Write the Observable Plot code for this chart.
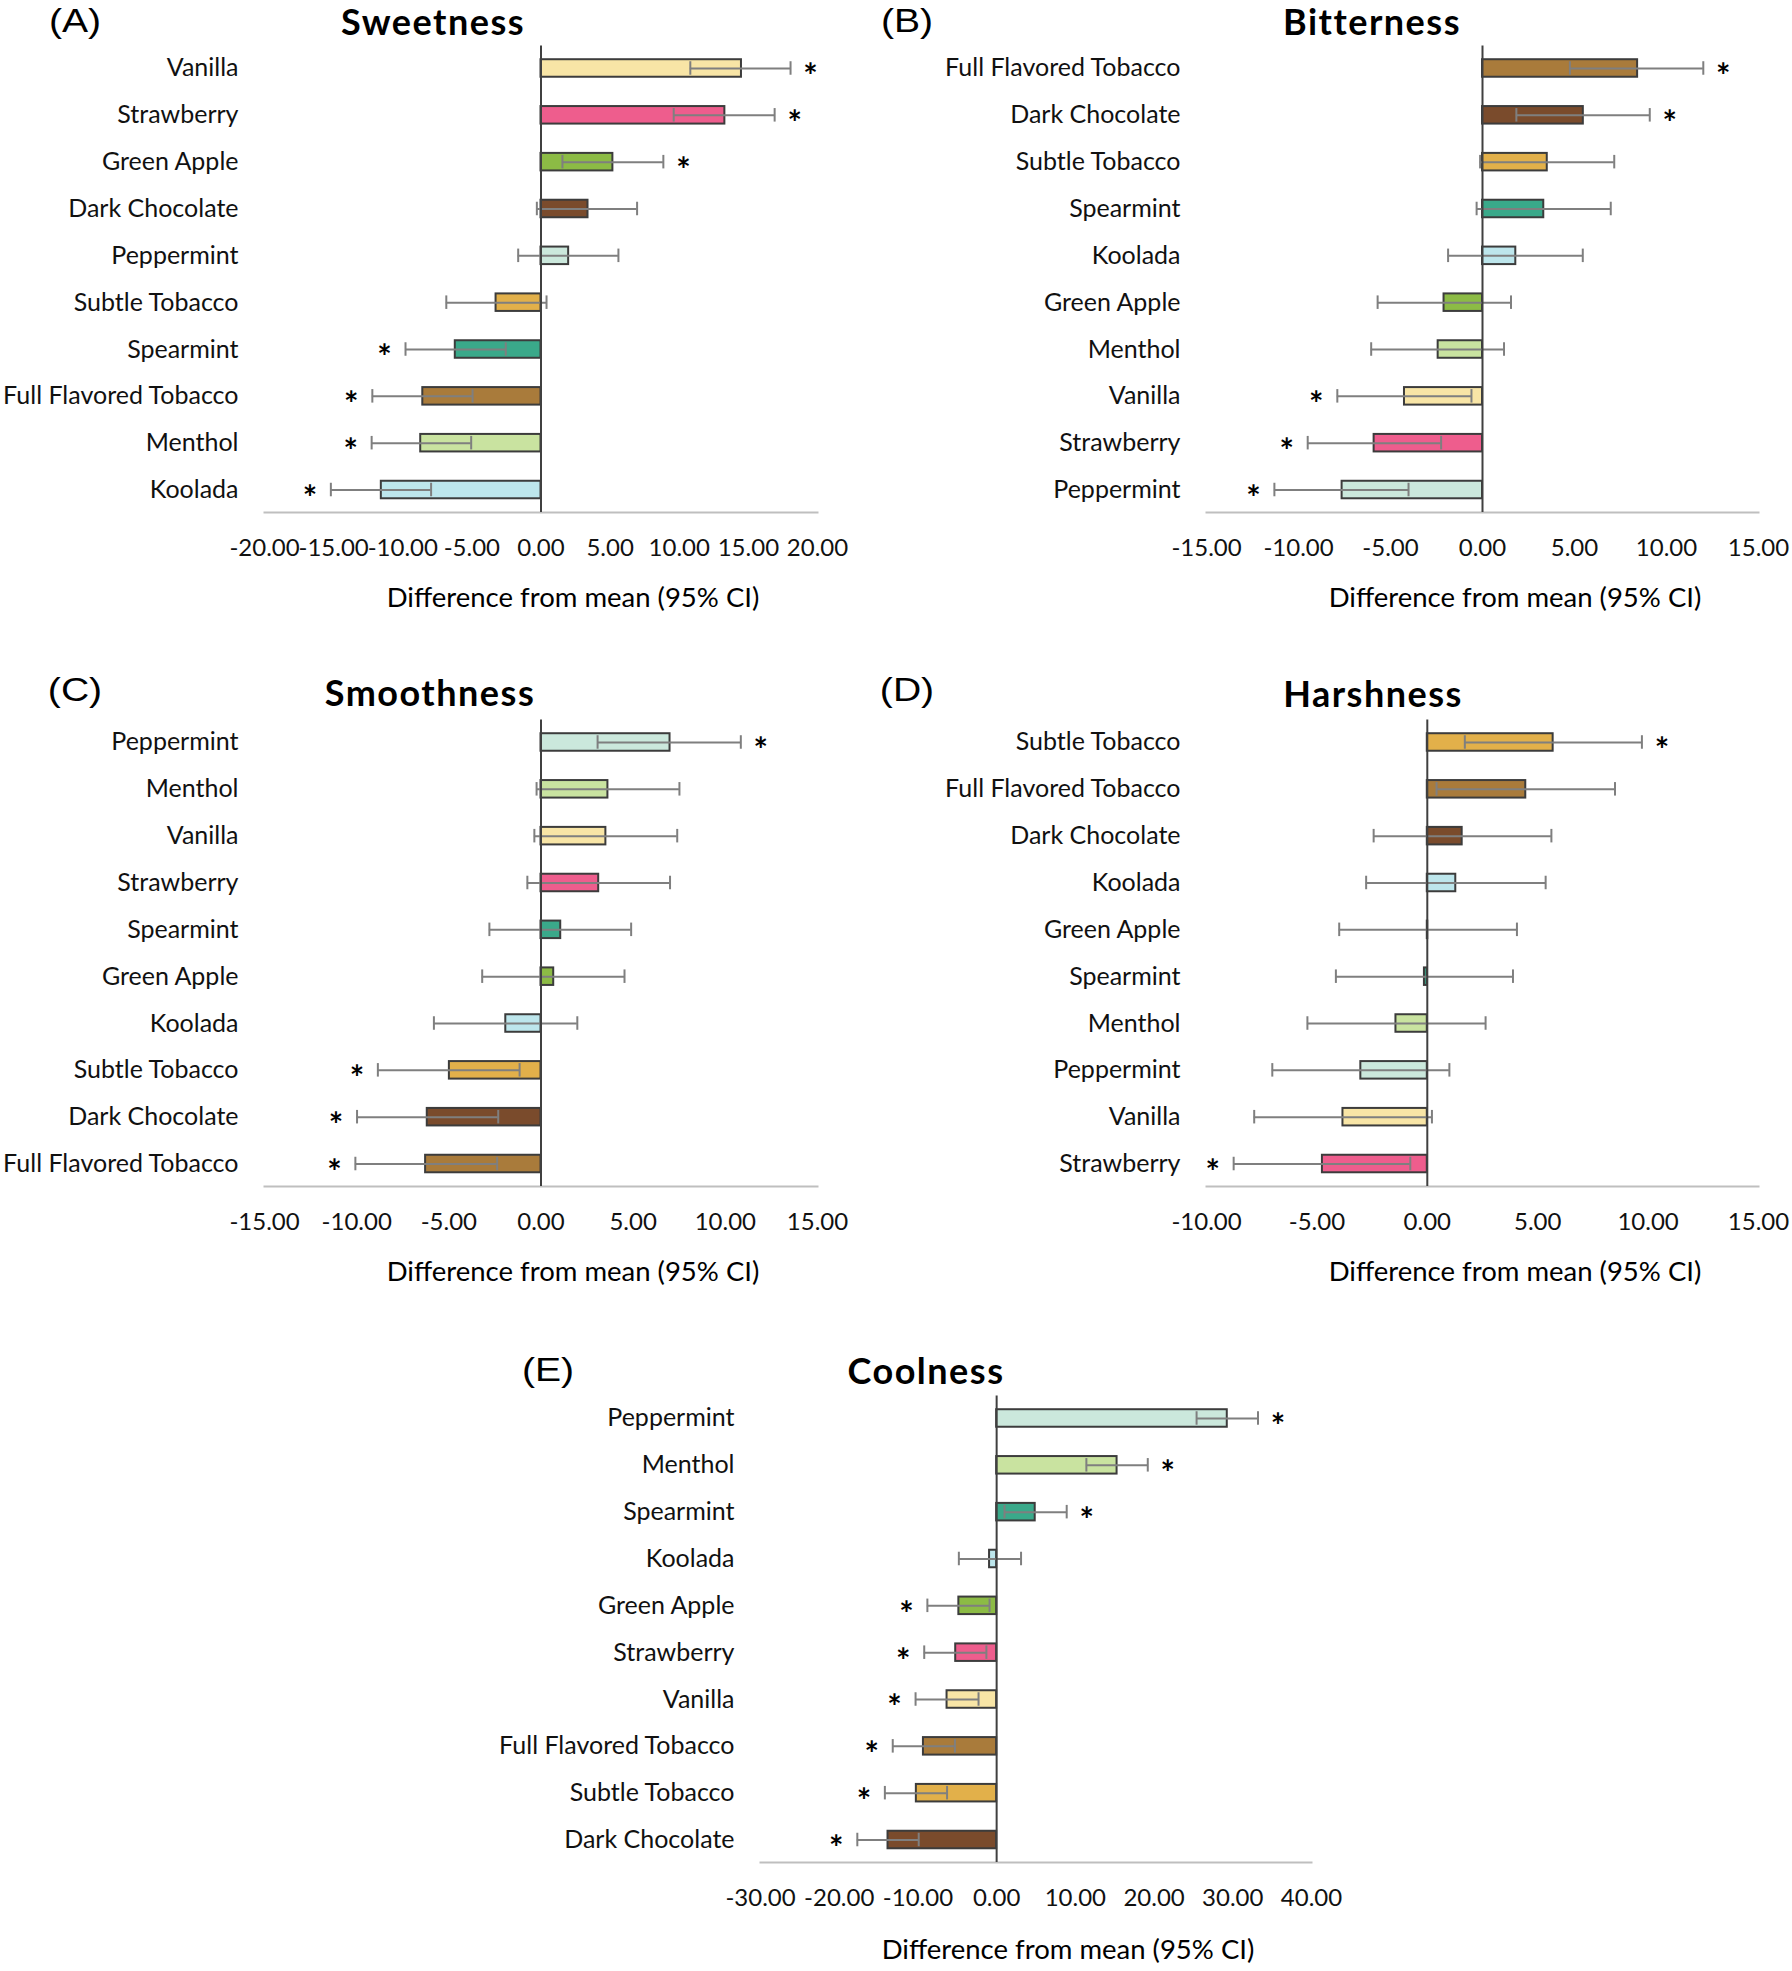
<!DOCTYPE html>
<html>
<head>
<meta charset="utf-8">
<script src="https://cdn.jsdelivr.net/npm/d3@7"></script>
<script src="https://cdn.jsdelivr.net/npm/@observablehq/plot@0.6"></script>
<style>
  html, body { margin: 0; padding: 0; background: #fff; }
  #root { position: relative; width: 1792px; height: 1971px; background: #fff; overflow: hidden; }
  .abs { position: absolute; transform: translate(-50%, -50%); white-space: nowrap; line-height: 1; color: #000; }
  .letter { font-family: "Liberation Sans", Arial, sans-serif; font-size: 34px; transform: translate(-50%, -50%) scaleX(1.15); }
  .title { font-family: Lato, sans-serif; font-weight: 700; font-size: 36px; letter-spacing: 1.5px; }
  .axtitle { font-family: Lato, sans-serif; font-size: 27.5px; }
  .plot { position: absolute; }
</style>
</head>
<body>
<div id="root"></div>
<script>
// ---------- data ----------
const flavors = ["Vanilla", "Strawberry", "Green Apple", "Dark Chocolate", "Peppermint", "Subtle Tobacco", "Spearmint", "Full Flavored Tobacco", "Menthol", "Koolada"];
const flavorColors = ["#f8e5a6", "#ee5d8d", "#8cbb45", "#7a4b2c", "#cbe8dc", "#e2b04a", "#3aa98a", "#a97b3b", "#c9e3a0", "#bde6ec"];

const sweetOrder = ["Vanilla", "Strawberry", "Green Apple", "Dark Chocolate", "Peppermint", "Subtle Tobacco", "Spearmint", "Full Flavored Tobacco", "Menthol", "Koolada"];
const sweetMean = [14.5, 13.3, 5.2, 3.4, 2.0, -3.25, -6.2, -8.55, -8.7, -11.55];
const sweetLow  = [10.8, 9.6, 1.55, -0.3, -1.65, -6.85, -9.8, -12.2, -12.25, -15.2];
const sweetHigh = [18.05, 16.9, 8.85, 6.95, 5.6, 0.4, -2.55, -4.95, -5.05, -7.95];
const sweetSig  = [1, 1, 1, 0, 0, 0, 1, 1, 1, 1];

const bitterOrder = ["Full Flavored Tobacco", "Dark Chocolate", "Subtle Tobacco", "Spearmint", "Koolada", "Green Apple", "Menthol", "Vanilla", "Strawberry", "Peppermint"];
const bitterMean = [8.43, 5.48, 3.52, 3.33, 1.81, -2.09, -2.41, -4.24, -5.89, -7.63];
const bitterLow  = [4.75, 1.84, -0.13, -0.32, -1.87, -5.70, -6.05, -7.89, -9.5, -11.31];
const bitterHigh = [12.0, 9.09, 7.16, 6.97, 5.45, 1.55, 1.17, -0.6, -2.25, -4.02];
const bitterSig  = [1, 1, 0, 0, 0, 0, 0, 1, 1, 1];

const smoothOrder = ["Peppermint", "Menthol", "Vanilla", "Strawberry", "Spearmint", "Green Apple", "Koolada", "Subtle Tobacco", "Dark Chocolate", "Full Flavored Tobacco"];
const smoothMean = [7.0, 3.63, 3.52, 3.13, 1.07, 0.69, -1.91, -4.97, -6.17, -6.26];
const smoothLow  = [3.07, -0.24, -0.36, -0.74, -2.8, -3.19, -5.81, -8.85, -9.98, -10.07];
const smoothHigh = [10.84, 7.51, 7.39, 7.0, 4.89, 4.53, 1.97, -1.16, -2.32, -2.38];
const smoothSig  = [1, 0, 0, 0, 0, 0, 0, 1, 1, 1];

const harshOrder = ["Subtle Tobacco", "Full Flavored Tobacco", "Dark Chocolate", "Koolada", "Green Apple", "Spearmint", "Menthol", "Peppermint", "Vanilla", "Strawberry"];
const harshMean = [5.70, 4.46, 1.58, 1.29, 0.02, -0.13, -1.42, -3.01, -3.82, -4.75];
const harshLow  = [1.70, 0.42, -2.43, -2.77, -3.99, -4.14, -5.43, -7.02, -7.84, -8.77];
const harshHigh = [9.72, 8.5, 5.62, 5.36, 4.06, 3.88, 2.64, 1.0, 0.21, -0.77];
const harshSig  = [1, 0, 0, 0, 0, 0, 0, 0, 0, 1];

const coolOrder = ["Peppermint", "Menthol", "Spearmint", "Koolada", "Green Apple", "Strawberry", "Vanilla", "Full Flavored Tobacco", "Subtle Tobacco", "Dark Chocolate"];
const coolMean = [29.3, 15.3, 4.9, -0.9, -4.8, -5.2, -6.3, -9.3, -10.2, -13.8];
const coolLow  = [25.4, 11.4, 1.0, -4.8, -8.8, -9.2, -10.3, -13.2, -14.2, -17.7];
const coolHigh = [33.2, 19.2, 8.9, 3.1, -0.9, -1.3, -2.3, -5.3, -6.3, -9.9];
const coolSig  = [1, 1, 1, 0, 1, 1, 1, 1, 1, 1];

const ticksA = [-20, -15, -10, -5, 0, 5, 10, 15, 20];
const ticksB = [-15, -10, -5, 0, 5, 10, 15];
const ticksC = [-15, -10, -5, 0, 5, 10, 15];
const ticksD = [-10, -5, 0, 5, 10, 15];
const ticksE = [-30, -20, -10, 0, 10, 20, 30, 40];

const panelLetters = ["(A)", "(B)", "(C)", "(D)", "(E)"];
const panelTitles = ["Sweetness", "Bitterness", "Smoothness", "Harshness", "Coolness"];
const axisTitle = "Difference from mean (95% CI)";

// ---------- layout ----------
const root = document.getElementById("root");
const layouts = [
  {order: sweetOrder, mean: sweetMean, low: sweetLow, high: sweetHigh, sig: sweetSig, ticks: ticksA,
   left: 0, top: 0, width: 860, ml: 264, mr: 43, letter: [75, 20], title: [433, 21], ax: [573, 597]},
  {order: bitterOrder, mean: bitterMean, low: bitterLow, high: bitterHigh, sig: bitterSig, ticks: ticksB,
   left: 880, top: 0, width: 912, ml: 326, mr: 34, letter: [907, 20], title: [1372, 21], ax: [1515, 597]},
  {order: smoothOrder, mean: smoothMean, low: smoothLow, high: smoothHigh, sig: smoothSig, ticks: ticksC,
   left: 0, top: 673.5, width: 860, ml: 264, mr: 43, letter: [75, 689], title: [430, 692], ax: [573, 1271]},
  {order: harshOrder, mean: harshMean, low: harshLow, high: harshHigh, sig: harshSig, ticks: ticksD,
   left: 880, top: 673.5, width: 912, ml: 326, mr: 34, letter: [907, 689], title: [1373, 693], ax: [1515, 1271]},
  {order: coolOrder, mean: coolMean, low: coolLow, high: coolHigh, sig: coolSig, ticks: ticksE,
   left: 400, top: 1350, width: 1000, ml: 360, mr: 89, letter: [548, 1369], title: [926, 1370], ax: [1068, 1949]}
];

function addText(cls, txt, pos) {
  const d = document.createElement("div");
  d.className = "abs " + cls;
  d.textContent = txt;
  d.style.left = pos[0] + "px";
  d.style.top = pos[1] + "px";
  root.appendChild(d);
}

layouts.forEach((L, i) => {
  const rows = L.order.map((f, k) => ({flavor: f, mean: L.mean[k], lo: L.low[k], hi: L.high[k], sig: L.sig[k]}));
  const plot = Plot.plot({
    width: L.width,
    height: 572,
    marginTop: 45.5,
    marginBottom: 60,
    marginLeft: L.ml,
    marginRight: L.mr,
    style: {fontFamily: "Lato, sans-serif", fontSize: "25px", color: "#000", background: "transparent", overflow: "visible"},
    x: {domain: d3.extent(L.ticks), axis: null},
    y: {domain: L.order, paddingInner: 0.626, paddingOuter: 0.293, align: 0.5, round: false, axis: null},
    color: {domain: flavors, range: flavorColors},
    marks: [
      Plot.frame({anchor: "bottom", stroke: "#bfbfbf", strokeWidth: 2}),
      Plot.barX(rows, {x: "mean", y: "flavor", fill: "flavor", stroke: "#3c3c3c", strokeWidth: 2}),
      Plot.ruleY(rows, {x1: "lo", x2: "hi", y: "flavor", stroke: "#7f7f7f", strokeWidth: 2}),
      Plot.tickX(rows, {x: "lo", y: "flavor", stroke: "#7f7f7f", strokeWidth: 2, insetTop: 2, insetBottom: 2}),
      Plot.tickX(rows, {x: "hi", y: "flavor", stroke: "#7f7f7f", strokeWidth: 2, insetTop: 2, insetBottom: 2}),
      Plot.ruleX([0], {stroke: "#404040", strokeWidth: 2}),
      Plot.text(rows.filter(d => d.sig && d.mean > 0), {x: "hi", y: "flavor", text: () => "*", dx: 20, dy: 9, fontSize: 34, fontWeight: "bold", fill: "#000"}),
      Plot.text(rows.filter(d => d.sig && d.mean < 0), {x: "lo", y: "flavor", text: () => "*", dx: -21, dy: 9, fontSize: 34, fontWeight: "bold", fill: "#000"}),
      Plot.axisY({tickSize: 0, tickPadding: 26, fontSize: 25, label: null, fill: "#111"}),
      Plot.axisX(L.ticks, {tickSize: 0, tickPadding: 26, fontSize: 24, label: null, tickFormat: d => d.toFixed(2), fill: "#111"})
    ]
  });
  plot.classList.add("plot");
  plot.style.left = L.left + "px";
  plot.style.top = L.top + "px";
  root.appendChild(plot);
  addText("letter", panelLetters[i], L.letter);
  addText("title", panelTitles[i], L.title);
  addText("axtitle", axisTitle, L.ax);
});
</script>
</body>
</html>
